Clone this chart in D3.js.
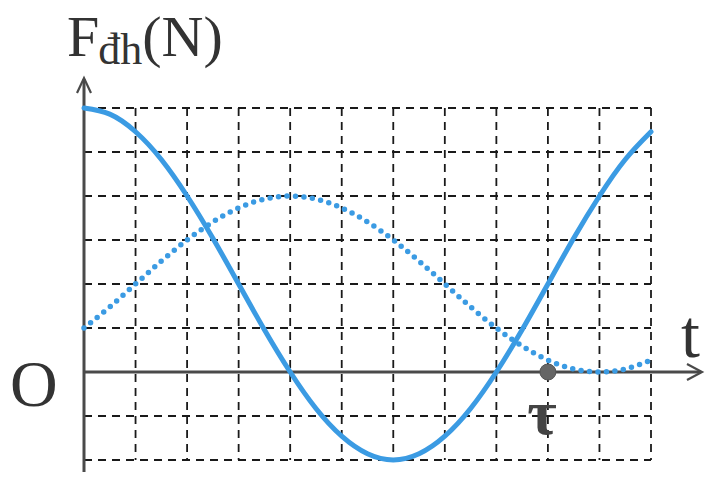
<!DOCTYPE html>
<html><head><meta charset="utf-8">
<script src="https://cdn.jsdelivr.net/npm/d3@7"></script>
<style>body{margin:0;background:#fff}svg{display:block}</style>
</head><body>
<svg id="c" width="719" height="492"></svg>
<script>
// time (grid units) sampled every half division
const tValues = [0,0.5,1,1.5,2,2.5,3,3.5,4,4.5,5,5.5,6,6.5,7,7.5,8,8.5,9,9.5,10,10.5,11];
// solid curve F(t), grid units
const solidValues = [6,5.86,5.46,4.83,4,3.04,2,0.96,0,-0.83,-1.46,-1.86,-2,-1.86,-1.46,-0.83,0,0.96,2,3.04,4,4.83,5.46];
// dotted curve, grid units
const dottedValues = [1,1.48,2,2.52,3,3.41,3.73,3.93,4,3.93,3.73,3.41,3,2.52,2,1.48,1,0.59,0.27,0.07,0,0.07,0.27];
const xGrid = [0,1,2,3,4,5,6,7,8,9,10,11];
const yGrid = [-2,-1,0,1,2,3,4,5,6];
const tauValue = 9;
const yLabel = ["F","đh","(N)"];
const xLabel = "t";
const originLabel = "O";
const tauLabel = "τ";

const svg = d3.select("#c");
const x = d3.scaleLinear().domain([0,11]).range([84,651]);
const y = d3.scaleLinear().domain([-2,6]).range([460,108]);
const blue = "#3b9be3";
const axisCol = "#4a4a4a";

// grid
const g = svg.append("g").attr("stroke","#1a1a1a").attr("stroke-width",1.8).attr("stroke-dasharray","8,6");
g.selectAll("line.v").data(xGrid.slice(1)).join("line")
  .attr("x1",d=>x(d)).attr("x2",d=>x(d)).attr("y1",y(6)).attr("y2",y(-2));
g.selectAll("line.h").data(yGrid.filter(d=>d!==0)).join("line")
  .attr("x1",x(0)).attr("x2",x(11)).attr("y1",d=>y(d)).attr("y2",d=>y(d));

// axes
const ax = svg.append("g").attr("stroke",axisCol).attr("fill","none").attr("stroke-width",3);
ax.append("line").attr("x1",x(0)).attr("x2",x(0)).attr("y1",472).attr("y2",79);
ax.append("line").attr("x1",x(0)).attr("x2",701).attr("y1",y(0)).attr("y2",y(0));
ax.append("path").attr("stroke-width",2.2).attr("d",`M${x(0)-7},${93} L${x(0)},${78} L${x(0)+7},${93}`);
ax.append("path").attr("stroke-width",2.2).attr("d",`M${687},${y(0)-8} L${702},${y(0)} L${687},${y(0)+8}`);

// curves
const line = d3.line().x((d,i)=>x(tValues[i])).y(d=>y(d)).curve(d3.curveNatural);
svg.append("path").datum(solidValues).attr("d",line).attr("fill","none")
  .attr("stroke",blue).attr("stroke-width",5).attr("stroke-linecap","round");
svg.append("path").datum(dottedValues).attr("d",line).attr("fill","none")
  .attr("stroke",blue).attr("stroke-width",5.5).attr("stroke-linecap","round").attr("stroke-dasharray","0,8.5");

// tau point
svg.append("circle").attr("cx",x(tauValue)).attr("cy",y(0)).attr("r",8).attr("fill","#666").attr("stroke","#555");

// labels
const serif = "'Liberation Serif','DejaVu Serif',serif";
const lab = svg.append("text").attr("x",67).attr("y",56).attr("font-family",serif).attr("fill","#333");
lab.append("tspan").attr("font-size",58).text(yLabel[0]);
lab.append("tspan").attr("font-size",44).attr("dy",8).attr("dx",-1).text(yLabel[1]);
lab.append("tspan").attr("font-size",58).attr("dy",-8).text(yLabel[2]);
svg.append("text").attr("x",10).attr("y",406).attr("font-family",serif).attr("font-size",66).attr("fill","#333").text(originLabel);
svg.append("text").attr("x",681).attr("y",357).attr("font-family",serif).attr("font-size",68).attr("fill","#333").text(xLabel);
svg.append("text").attr("x",542).attr("y",434).attr("text-anchor","middle").attr("font-family",serif).attr("font-weight","bold").attr("font-size",64).attr("fill","#444").text(tauLabel);
</script>
</body></html>
